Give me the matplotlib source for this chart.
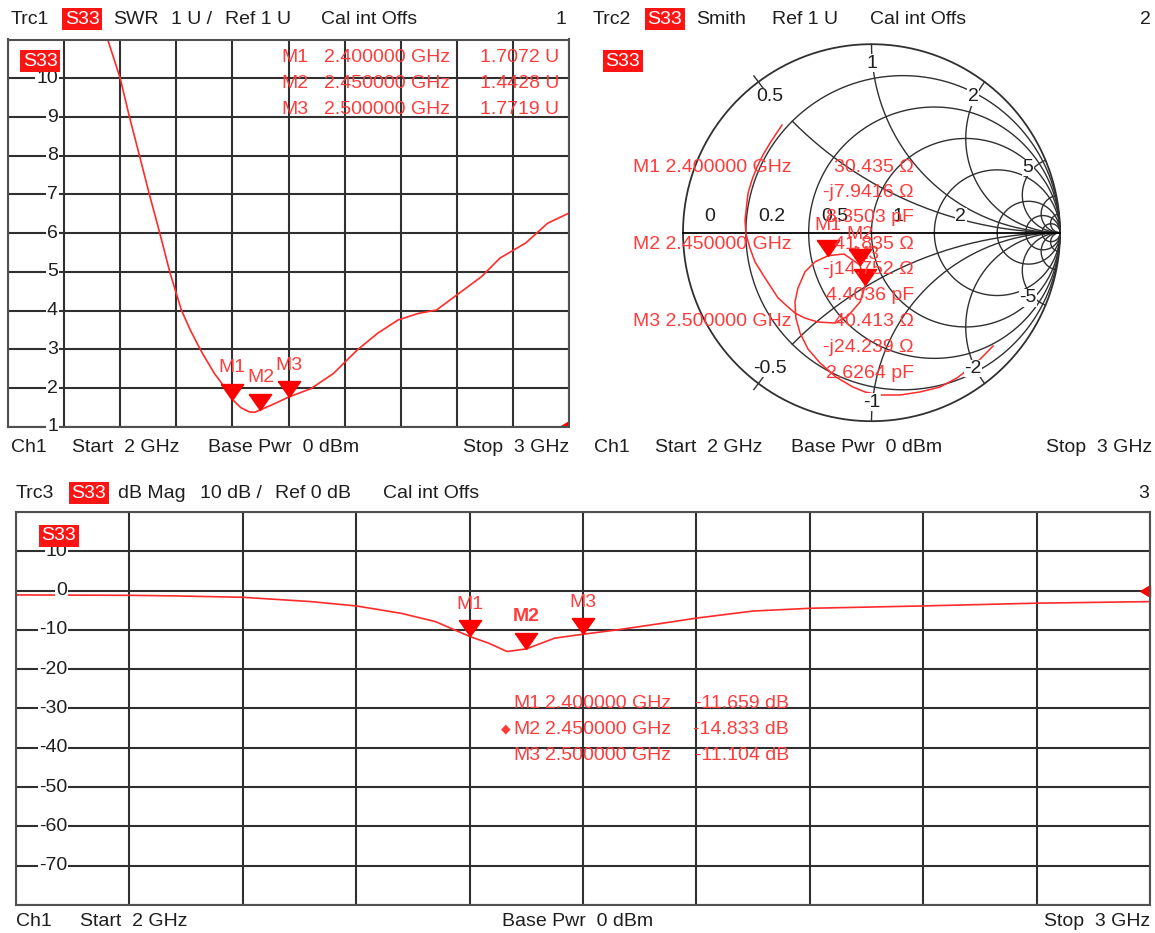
import numpy as np
import matplotlib.pyplot as plt

plt.rcParams['font.family'] = ['Liberation Sans', 'DejaVu Sans']
plt.rcParams['font.size'] = 14

RED = '#ff2a2a'
TXT_RED = '#ff3c3c'
GRID = '#303030'
INK = '#1e1e1e'

# Trc1 - SWR over 2..3 GHz
swr_freq = [2.15, 2.177, 2.20, 2.216, 2.233, 2.253, 2.269, 2.289, 2.309, 2.325, 2.345,
            2.368, 2.388, 2.40, 2.415, 2.43, 2.44, 2.45, 2.475, 2.50, 2.54, 2.58, 2.622,
            2.659, 2.695, 2.731, 2.764, 2.804, 2.844, 2.877, 2.923, 2.962, 3.0]
swr_vals = [12.6, 11.03, 10.0, 9.03, 8.08, 6.95, 6.09, 4.97, 4.02, 3.5, 2.94,
            2.38, 1.99, 1.707, 1.5, 1.39, 1.38, 1.443, 1.6, 1.772, 1.99, 2.38, 2.98,
            3.42, 3.76, 3.93, 4.02, 4.45, 4.88, 5.36, 5.75, 6.26, 6.52]

# Trc3 - dB Mag
db_freq = [2.0, 2.1, 2.14, 2.2, 2.26, 2.30, 2.34, 2.37, 2.40, 2.417, 2.433, 2.45,
           2.475, 2.50, 2.53, 2.575, 2.60, 2.65, 2.70, 2.80, 2.90, 3.0]
db_vals = [-1.1, -1.2, -1.35, -1.7, -2.8, -3.9, -5.8, -7.9, -11.66, -13.4, -15.5, -14.83,
           -12.1, -11.1, -10.0, -8.1, -7.0, -5.2, -4.5, -3.9, -3.2, -2.8]

# Trc2 - Smith, reflection coefficient (re, im), 2 GHz -> 3 GHz
smith_re = [0.645, 0.549, 0.454, 0.363, 0.257, 0.151, 0.045, -0.034, -0.098, -0.188,
            -0.273, -0.337, -0.379, -0.401, -0.406, -0.390, -0.353, -0.300, -0.231,
            -0.146, -0.062, -0.032, -0.061, -0.125, -0.194, -0.284, -0.353, -0.406,
            -0.454, -0.496, -0.565, -0.618, -0.645, -0.666, -0.671, -0.655, -0.634,
            -0.607, -0.576, -0.538, -0.475]
smith_im = [-0.601, -0.698, -0.770, -0.819, -0.845, -0.861, -0.861, -0.845, -0.819, -0.766,
            -0.691, -0.617, -0.532, -0.453, -0.368, -0.293, -0.208, -0.155, -0.122,
            -0.113, -0.171, -0.277, -0.368, -0.442, -0.479, -0.474, -0.453, -0.426,
            -0.384, -0.346, -0.240, -0.155, -0.081, -0.007, 0.067, 0.210, 0.280,
            0.349, 0.412, 0.476, 0.571]

marker_names = ['M1', 'M2', 'M3']
marker_freq = [2.4, 2.45, 2.5]
marker_freq_txt = ['2.400000 GHz', '2.450000 GHz', '2.500000 GHz']
marker_swr = [1.7072, 1.4428, 1.7719]
marker_db = [-11.659, -14.833, -11.104]
marker_res = [30.435, 41.835, 40.413]
marker_reac = [-7.9416, -14.752, -24.239]
marker_cap = [8.3503, 4.4036, 2.6264]

smith_r_circles = [0.2, 0.5, 1, 2, 5, 10, 20]
smith_x_arcs = [0.5, 1, 2, 5, 10, 20]
smith_r_labels = ['0', '0.2', '0.5', '1', '2']
smith_x_labels = ['0.5', '1', '2', '5']

W, H = 1155, 933
fig = plt.figure(figsize=(W / 100, H / 100), dpi=100)


def px_axes(x0, y0, x1, y1):
    return fig.add_axes([x0 / W, 1 - y1 / H, (x1 - x0) / W, (y1 - y0) / H])


# marker shapes: down triangle with its tip on the point, ref arrow at right edge
tri_down = [(-0.7, 1.0), (0.7, 1.0), (0.0, 0.0), (-0.7, 1.0)]
tri_ref = [(-1.0, 0.0), (0.0, 0.6), (0.0, -0.6), (-1.0, 0.0)]


def cart_panel(ax, ylo, yhi, labels, lab_x):
    ax.set_xlim(2, 3)
    ax.set_ylim(ylo, yhi)
    ax.set_xticks(np.linspace(2, 3, 11))
    ax.set_yticks(np.linspace(ylo, yhi, 11))
    ax.tick_params(length=0, labelleft=False, labelbottom=False)
    ax.grid(True, color=GRID, lw=1.5)
    for s in ax.spines.values():
        s.set_color('#505050')
        s.set_linewidth(1.5)
    for v in labels:
        ax.text(lab_x, v, str(v), transform=ax.get_yaxis_transform(), ha='right',
                va='center', color=INK,
                bbox=dict(facecolor='white', edgecolor='none', pad=0.5))


# ---- panel 1: SWR ----
ax1 = px_axes(8, 39.5, 569, 427)
cart_panel(ax1, 1, 11, list(range(1, 11)), 0.089)
ax1.plot(swr_freq, swr_vals, color=RED, lw=1.2)
ax1.plot(marker_freq, marker_swr, ls='none', marker=tri_down, ms=23, color='red', zorder=5)
for n, f, v in zip(marker_names, marker_freq, marker_swr):
    ax1.annotate(n, (f, v), xytext=(0, 23), textcoords='offset points', ha='center',
                 va='center', color=TXT_RED)
ax1.plot([3.0], [1.0], marker=tri_ref, ms=14, color='red', clip_on=True)

# ---- panel 3: dB Mag ----
ax3 = px_axes(16, 512, 1150, 905)
cart_panel(ax3, -80, 20, list(range(10, -71, -10)), 0.045)
ax3.plot(db_freq, db_vals, color=RED, lw=1.2)
ax3.plot(marker_freq, marker_db, ls='none', marker=tri_down, ms=23, color='red', zorder=5)
for n, f, v in zip(marker_names, marker_freq, marker_db):
    ax3.annotate(n, (f, v), xytext=(0, 23), textcoords='offset points', ha='center',
                 va='center', color=TXT_RED, fontweight='bold' if n == 'M2' else 'normal')
ax3.plot([3.0], [0.0], marker=tri_ref, ms=14, color='red', clip_on=False)

# ---- panel 2: Smith chart ----
cx, cy, R = 871.5, 232.7, 188.5
L = 1.15
ax2 = px_axes(cx - L * R, cy - L * R, cx + L * R, cy + L * R)
ax2.set_xlim(-L, L)
ax2.set_ylim(-L, L)
ax2.axis('off')
t = np.linspace(0, 2 * np.pi, 500)
ax2.plot(np.cos(t), np.sin(t), color=GRID, lw=1.3)
for r in smith_r_circles:
    c, rad = r / (1 + r), 1 / (1 + r)
    ax2.plot(c + rad * np.cos(t), rad * np.sin(t), color=GRID, lw=1.0)
for x in smith_x_arcs:
    r0 = 0.2 if x == 0.5 else 0.0
    rr = np.concatenate([np.linspace(r0, 1, 120), np.geomspace(1, 1e4, 300)])
    for sx in (x, -x):
        z = rr + 1j * sx
        g = (z - 1) / (z + 1)
        ax2.plot(g.real, g.imag, color=GRID, lw=1.0)
for sx in (0.5, -0.5):
    g = (1j * sx - 1) / (1j * sx + 1)
    ax2.plot([0.96 * g.real, 1.04 * g.real], [0.96 * g.imag, 1.04 * g.imag], color=GRID, lw=1.0)
ax2.plot([-1, 1], [0, 0], color='black', lw=1.3)
for lab in smith_r_labels:
    r = float(lab)
    ax2.text((r - 1) / (r + 1) + 0.14, 0.085, lab, ha='center', va='center', color=INK,
             bbox=dict(facecolor='white', edgecolor='none', pad=0.3))
for lab in smith_x_labels:
    x = float(lab)
    for sx, s in ((x, lab), (-x, '-' + lab)):
        g = 0.9 * (1j * sx - 1) / (1j * sx + 1)
        ax2.text(g.real, g.imag, s, ha='center', va='center', color=INK,
                 bbox=dict(facecolor='white', edgecolor='none', pad=0.3))
ax2.plot(smith_re, smith_im, color=RED, lw=1.1)
zm = np.array(marker_res) + 1j * np.array(marker_reac)
gm = (zm - 50) / (zm + 50)
for n, g in zip(marker_names, gm):
    ax2.annotate(n, (g.real, g.imag), xytext=(0, 22), textcoords='offset points',
                 ha='center', va='center', color=TXT_RED)
ax2.plot(gm.real, gm.imag, ls='none', marker=tri_down, ms=23, color='red', zorder=6)

# ---- overlay with header / footer / readout text (pixel coords) ----
ov = fig.add_axes([0, 0, 1, 1], zorder=10)
ov.set_xlim(0, W)
ov.set_ylim(H, 0)
ov.axis('off')
ov.patch.set_alpha(0)


def txt(x, y, s, **kw):
    kw.setdefault('color', INK)
    kw.setdefault('va', 'center')
    ov.text(x, y, s, **kw)


def s33(x, y):
    ov.text(x, y, 'S33', color='white', ha='center', va='center',
            bbox=dict(boxstyle='square,pad=0.12', facecolor='#ff1414', edgecolor='none'))


# headers
for x, s in [(11, 'Trc1'), (113, 'SWR'), (171, '1 U /'), (225, 'Ref 1 U'), (321, 'Cal int Offs')]:
    txt(x, 19, s)
txt(566, 19, '1', ha='right')
s33(82, 19)
for x, s in [(593, 'Trc2'), (696, 'Smith'), (772, 'Ref 1 U'), (870, 'Cal int Offs')]:
    txt(x, 19, s)
txt(1151, 19, '2', ha='right')
s33(665, 19)
for x, s in [(16, 'Trc3'), (118, 'dB Mag'), (200, '10 dB /'), (275, 'Ref 0 dB'), (383, 'Cal int Offs')]:
    txt(x, 493, s)
txt(1149, 493, '3', ha='right')
s33(89, 493)
# trace labels inside panels
s33(40, 61)
s33(623, 61)
s33(59, 536)

# footers
for x0, y, right in [(11, 447, 569), (594, 447, 1152), (16, 921, 1150)]:
    txt(x0, y, 'Ch1')
    txt(right, y, 'Stop  3 GHz', ha='right')
txt(72, 447, 'Start  2 GHz')
txt(208, 447, 'Base Pwr  0 dBm')
txt(655, 447, 'Start  2 GHz')
txt(791, 447, 'Base Pwr  0 dBm')
txt(80, 921, 'Start  2 GHz')
txt(502, 921, 'Base Pwr  0 dBm')

# marker readouts
for i, n in enumerate(marker_names):
    y = 57 + 26.5 * i
    txt(281, y, n, color=TXT_RED)
    txt(324, y, marker_freq_txt[i], color=TXT_RED)
    txt(559, y, f'{marker_swr[i]:.4f} U', color=TXT_RED, ha='right')

for i, n in enumerate(marker_names):
    y = 167 + 77.5 * i
    txt(633, y, f'{n} {marker_freq_txt[i]}', color=TXT_RED)
    txt(914, y, f'{marker_res[i]:.5g} Ω', color=TXT_RED, ha='right')
    txt(914, y + 25.5, f'-j{-marker_reac[i]:.5g} Ω', color=TXT_RED, ha='right')
    txt(914, y + 51, f'{marker_cap[i]:.5g} pF', color=TXT_RED, ha='right')

for i, n in enumerate(marker_names):
    y = 703.5 + 25.8 * i
    txt(513, y, n, color=TXT_RED)
    txt(545, y, marker_freq_txt[i], color=TXT_RED)
    txt(789, y, f'{marker_db[i]:.3f} dB', color=TXT_RED, ha='right')
txt(506, 729.3, '◆', color=TXT_RED, ha='center', fontsize=9)

fig.savefig('out.png', dpi=100)
